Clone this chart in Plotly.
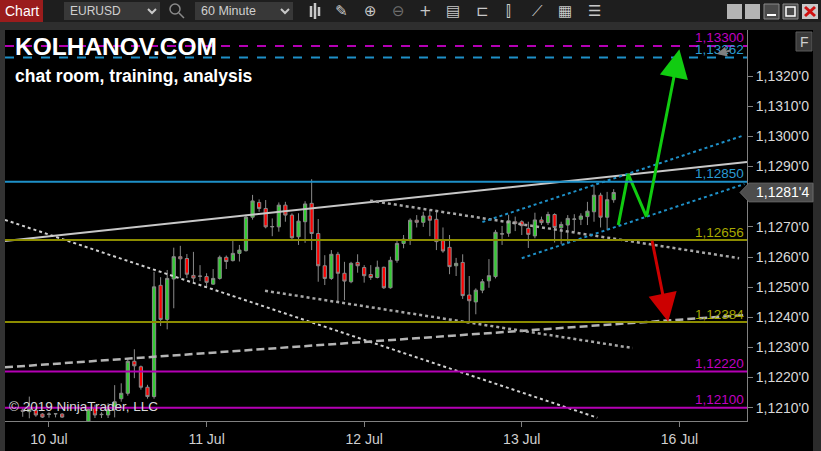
import plotly.graph_objects as go

# ---------------- data ----------------
hours = [-4, -3, -2, -1, 0, 1, 2, 6, 7, 8, 9, 10, 11, 12, 13, 14, 15, 16, 17, 18, 19, 20,
         21, 22, 23, 24, 25, 26, 27, 28, 29, 30, 31, 32, 33, 34, 35, 36, 37, 38, 39, 40,
         41, 42, 43, 44, 45, 46, 47, 48, 49, 50, 51, 52, 53, 54, 55, 56, 57, 58, 59, 60,
         61, 62, 63, 64, 65, 66, 67, 68, 69, 70, 71, 72, 73, 74, 75, 76, 77, 78, 79, 80,
         81, 82, 83, 84, 85, 86]
opens = [1.12092, 1.12087, 1.12092, 1.12079, 1.12078, 1.12080, 1.12079, 1.12040, 1.12100, 1.12077, 1.12076, 1.12095,
         1.12130, 1.12148, 1.12254, 1.12236, 1.12168, 1.12137, 1.12506, 1.12393, 1.12527, 1.12601,
         1.12595, 1.12539, 1.12537, 1.12535, 1.12510, 1.12529, 1.12599, 1.12588, 1.12612, 1.12621,
         1.12732, 1.12781, 1.12761, 1.12700, 1.12700, 1.12772, 1.12739, 1.12667, 1.12717, 1.12778,
         1.12678, 1.12571, 1.12529, 1.12609, 1.12546, 1.12518, 1.12582, 1.12565, 1.12542, 1.12532,
         1.12566, 1.12498, 1.12589, 1.12645, 1.12659, 1.12722, 1.12715, 1.12736, 1.12725, 1.12654,
         1.12632, 1.12571, 1.12582, 1.12474, 1.12451, 1.12490, 1.12521, 1.12535, 1.12676, 1.12679,
         1.12717, 1.12717, 1.12695, 1.12670, 1.12723, 1.12714, 1.12741, 1.12697, 1.12706, 1.12725,
         1.12725, 1.12734, 1.12750, 1.12805, 1.12732, 1.12790]
highs = [1.12100, 1.12137, 1.12105, 1.12082, 1.12085, 1.12081, 1.12082, 1.12100, 1.12110, 1.12085, 1.12115, 1.12175,
         1.12181, 1.12265, 1.12294, 1.12240, 1.12176, 1.12551, 1.12533, 1.12557, 1.12631, 1.12637,
         1.12610, 1.12617, 1.12573, 1.12546, 1.12560, 1.12605, 1.12605, 1.12653, 1.12640, 1.12740,
         1.12806, 1.12791, 1.12789, 1.12728, 1.12781, 1.12783, 1.12745, 1.12745, 1.12785, 1.12858,
         1.12726, 1.12606, 1.12623, 1.12617, 1.12584, 1.12584, 1.12609, 1.12573, 1.12573, 1.12588,
         1.12568, 1.12601, 1.12654, 1.12673, 1.12728, 1.12739, 1.12750, 1.12755, 1.12750, 1.12698,
         1.12673, 1.12597, 1.12609, 1.12537, 1.12496, 1.12527, 1.12593, 1.12690, 1.12703, 1.12740,
         1.12734, 1.12722, 1.12717, 1.12747, 1.12734, 1.12750, 1.12745, 1.12717, 1.12739, 1.12742,
         1.12745, 1.12783, 1.12838, 1.12813, 1.12816, 1.12825]
lows = [1.12070, 1.12065, 1.12070, 1.12066, 1.12067, 1.12068, 1.12066, 1.12030, 1.12066, 1.12066, 1.12066, 1.12068,
        1.12120, 1.12140, 1.12198, 1.12160, 1.12130, 1.12130, 1.12371, 1.12360, 1.12430, 1.12530,
        1.12530, 1.12513, 1.12520, 1.12502, 1.12508, 1.12525, 1.12560, 1.12585, 1.12585, 1.12618,
        1.12724, 1.12750, 1.12695, 1.12669, 1.12684, 1.12717, 1.12660, 1.12640, 1.12647, 1.12623,
        1.12518, 1.12507, 1.12524, 1.12452, 1.12457, 1.12513, 1.12548, 1.12515, 1.12524, 1.12529,
        1.12494, 1.12495, 1.12581, 1.12629, 1.12640, 1.12698, 1.12700, 1.12669, 1.12623, 1.12614,
        1.12543, 1.12537, 1.12461, 1.12385, 1.12410, 1.12480, 1.12498, 1.12529, 1.12640, 1.12667,
        1.12686, 1.12673, 1.12630, 1.12662, 1.12706, 1.12706, 1.12648, 1.12643, 1.12645, 1.12684,
        1.12706, 1.12706, 1.12717, 1.12698, 1.12689, 1.12780]
closes = [1.12088, 1.12097, 1.12076, 1.12069, 1.12079, 1.12080, 1.12069, 1.12095, 1.12076, 1.12078, 1.12095, 1.12120,
          1.12148, 1.12254, 1.12239, 1.12168, 1.12137, 1.12501, 1.12393, 1.12529, 1.12601, 1.12594,
          1.12543, 1.12530, 1.12536, 1.12516, 1.12529, 1.12599, 1.12585, 1.12612, 1.12623, 1.12732,
          1.12786, 1.12761, 1.12700, 1.12701, 1.12772, 1.12739, 1.12664, 1.12719, 1.12776, 1.12678,
          1.12571, 1.12529, 1.12609, 1.12546, 1.12520, 1.12579, 1.12571, 1.12538, 1.12532, 1.12566,
          1.12498, 1.12589, 1.12645, 1.12659, 1.12722, 1.12715, 1.12736, 1.12722, 1.12651, 1.12620,
          1.12568, 1.12579, 1.12472, 1.12455, 1.12490, 1.12518, 1.12538, 1.12682, 1.12677, 1.12720,
          1.12711, 1.12704, 1.12675, 1.12723, 1.12714, 1.12741, 1.12698, 1.12708, 1.12728, 1.12726,
          1.12736, 1.12752, 1.12805, 1.12732, 1.12790, 1.12814]

x_tick_hours = [0, 24, 48, 72, 96]
x_tick_labels = ["10 Jul", "11 Jul", "12 Jul", "13 Jul", "16 Jul"]
y_tick_values = [1.1210, 1.1220, 1.1230, 1.1240, 1.1250, 1.1260, 1.1270, 1.1280, 1.1290, 1.1300, 1.1310, 1.1320]
y_tick_labels = ["1,1210'0", "1,1220'0", "1,1230'0", "1,1240'0", "1,1250'0", "1,1260'0",
                 "1,1270'0", "", "1,1290'0", "1,1300'0", "1,1310'0", "1,1320'0"]

level_values = [1.13300, 1.13262, 1.12850, 1.12656, 1.12384, 1.12220, 1.12100]
level_labels = ["1,13300", "1,13262", "1,12850", "1,12656", "1,12384", "1,12220", "1,12100"]
level_colors = ["#b400b4", "#1e90c8", "#1e90c8", "#8c8c00", "#8c8c00", "#b400b4", "#b400b4"]
level_text_colors = ["#c000c0", "#2a9ad2", "#2a9ad2", "#a8a800", "#a8a800", "#c000c0", "#c000c0"]
level_dashes = ["dash", "dash", "solid", "solid", "solid", "solid", "solid"]

# drawn trend lines: (hours, price)
white_line_x = [-6.7, 106.3]
white_line_y = [1.12653, 1.12915]
long_dotted_x = [-6.7, 83.5]
long_dotted_y = [1.12723, 1.12067]
rising_dashed_x = [-6.7, 106.3]
rising_dashed_y = [1.12234, 1.12408]
upper_dotted_x = [48.9, 105.1]
upper_dotted_y = [1.12787, 1.12596]
lower_dotted_x = [32.9, 88.9]
lower_dotted_y = [1.12488, 1.12298]
channel_top_x = [66.0, 105.9]
channel_top_y = [1.12716, 1.13004]
channel_bottom_x = [72.0, 105.9]
channel_bottom_y = [1.12596, 1.12842]
green_path_x = [86.7, 88.2, 91.0, 96.0]
green_path_y = [1.12706, 1.12875, 1.12733, 1.13289]
red_arrow_x = [91.8, 94.3]
red_arrow_y = [1.12659, 1.12385]
gray_arrow_x = [104.0, 101.7]
gray_arrow_y = [1.13286, 1.13273]

X_RANGE = [-6.7, 106.3]
Y_RANGE = [1.12056, 1.13353]

# ---------------- geometry helpers (pixel -> paper) ----------------
W, H = 821, 451
L, R, T, B = 5, 74, 30, 30
PW, PH = W - L - R, H - T - B


def px(x):
    return (x - L) / PW


def py(y):
    return (H - B - y) / PH


SANS = "Liberation Sans, Arial, sans-serif"

fig = go.Figure()

fig.add_trace(go.Candlestick(
    x=hours, open=opens, high=highs, low=lows, close=closes,
    increasing=dict(fillcolor="#33cc33", line=dict(color="#8a8a8a", width=1)),
    decreasing=dict(fillcolor="#ff0000", line=dict(color="#8a8a8a", width=1)),
    whiskerwidth=0, showlegend=False, hoverinfo="skip"))


def add_line(xs, ys, color, width, dash):
    fig.add_trace(go.Scatter(x=xs, y=ys, mode="lines", showlegend=False, hoverinfo="skip",
                             line=dict(color=color, width=width, dash=dash)))


add_line(white_line_x, white_line_y, "#c8c8c8", 2, "solid")
add_line(long_dotted_x, long_dotted_y, "#d0d0d0", 2, "dot")
add_line(rising_dashed_x, rising_dashed_y, "#b4b4b4", 2.5, "8px,4px")
add_line(upper_dotted_x, upper_dotted_y, "#a8a8a8", 2.5, "dot")
add_line(lower_dotted_x, lower_dotted_y, "#a8a8a8", 2.5, "dot")
add_line(channel_top_x, channel_top_y, "#1e90c8", 2, "dot")
add_line(channel_bottom_x, channel_bottom_y, "#1e90c8", 2, "dot")
add_line(green_path_x[:3], green_path_y[:3], "#11cc11", 3, "solid")

shapes = []
annotations = []

# horizontal levels
for v, lab, c, tc, d in zip(level_values, level_labels, level_colors, level_text_colors, level_dashes):
    shapes.append(dict(type="line", xref="paper", yref="y", x0=0, x1=1, y0=v, y1=v,
                       line=dict(color=c, width=2, dash=d), layer="above"))
    annotations.append(dict(xref="paper", yref="y", x=px(746), y=v, text=lab, showarrow=False,
                            xanchor="right", yanchor="middle", yshift=8,
                            font=dict(family=SANS, size=13.5, color=tc)))

# arrows
annotations.append(dict(x=green_path_x[3], y=green_path_y[3], ax=green_path_x[2], ay=green_path_y[2],
                        xref="x", yref="y", axref="x", ayref="y", text="", showarrow=True,
                        arrowhead=2, arrowsize=1.9, arrowwidth=3, arrowcolor="#11cc11"))
annotations.append(dict(x=red_arrow_x[1], y=red_arrow_y[1], ax=red_arrow_x[0], ay=red_arrow_y[0],
                        xref="x", yref="y", axref="x", ayref="y", text="", showarrow=True,
                        arrowhead=2, arrowsize=1.9, arrowwidth=3, arrowcolor="#cc0000"))
annotations.append(dict(x=gray_arrow_x[1], y=gray_arrow_y[1], ax=gray_arrow_x[0], ay=gray_arrow_y[0],
                        xref="x", yref="y", axref="x", ayref="y", text="", showarrow=True,
                        arrowhead=2, arrowsize=1, arrowwidth=2, arrowcolor="#808080"))

# frame pieces outside the plot
shapes += [
    dict(type="rect", xref="paper", yref="paper", x0=px(0), x1=px(821), y0=py(0), y1=py(22),
         fillcolor="#1e1e1e", line_width=0, layer="below"),
    dict(type="rect", xref="paper", yref="paper", x0=px(0), x1=px(821), y0=py(22), y1=py(30),
         fillcolor="#2e2e2e", line_width=0, layer="below"),
    dict(type="rect", xref="paper", yref="paper", x0=px(0), x1=px(5), y0=py(30), y1=py(451),
         fillcolor="#333333", line_width=0, layer="below"),
    dict(type="rect", xref="paper", yref="paper", x0=px(813), x1=px(821), y0=py(30), y1=py(451),
         fillcolor="#2b2b2b", line_width=0, layer="below"),
    # Chart tab
    dict(type="rect", xref="paper", yref="paper", x0=px(0), x1=px(43), y0=py(0), y1=py(22),
         fillcolor="#9a1c1c", line_width=0),
    # symbol & interval boxes
    dict(type="rect", xref="paper", yref="paper", x0=px(64), x1=px(160), y0=py(2), y1=py(20),
         fillcolor="#383838", line_width=0),
    dict(type="rect", xref="paper", yref="paper", x0=px(195), x1=px(293), y0=py(2), y1=py(20),
         fillcolor="#383838", line_width=0),
    # chevrons
    dict(type="path", xref="paper", yref="paper",
         path=f"M {px(148)},{py(9)} L {px(152)},{py(13)} L {px(156)},{py(9)}",
         line=dict(color="#c8c8c8", width=2)),
    dict(type="path", xref="paper", yref="paper",
         path=f"M {px(281)},{py(9)} L {px(285)},{py(13)} L {px(289)},{py(9)}",
         line=dict(color="#c8c8c8", width=2)),
    # search icon
    dict(type="circle", xref="paper", yref="paper", x0=px(170), x1=px(180), y0=py(4), y1=py(14),
         line=dict(color="#8a8a8a", width=1.5)),
    dict(type="line", xref="paper", yref="paper", x0=px(179), x1=px(184), y0=py(13), y1=py(18),
         line=dict(color="#8a8a8a", width=1.5)),
    # window buttons
    dict(type="rect", xref="paper", yref="paper", x0=px(727), x1=px(742), y0=py(4), y1=py(19),
         fillcolor="#b4b4b4", line_width=0),
    dict(type="rect", xref="paper", yref="paper", x0=px(745), x1=px(760), y0=py(4), y1=py(19),
         fillcolor="#b4b4b4", line_width=0),
    dict(type="rect", xref="paper", yref="paper", x0=px(764), x1=px(779), y0=py(4), y1=py(19),
         fillcolor="#4a4a4a", line=dict(color="#8a8a8a", width=1)),
    dict(type="line", xref="paper", yref="paper", x0=px(767), x1=px(776), y0=py(15), y1=py(15),
         line=dict(color="#ffffff", width=2)),
    dict(type="rect", xref="paper", yref="paper", x0=px(783), x1=px(798), y0=py(4), y1=py(19),
         fillcolor="#4a4a4a", line=dict(color="#8a8a8a", width=1)),
    dict(type="rect", xref="paper", yref="paper", x0=px(786), x1=px(795), y0=py(7), y1=py(16),
         line=dict(color="#ffffff", width=1.5)),
    dict(type="rect", xref="paper", yref="paper", x0=px(802), x1=px(818), y0=py(4), y1=py(19),
         fillcolor="#c8c8c8", line_width=0),
    dict(type="line", xref="paper", yref="paper", x0=px(805), x1=px(815), y0=py(7), y1=py(16),
         line=dict(color="#d01010", width=3)),
    dict(type="line", xref="paper", yref="paper", x0=px(805), x1=px(815), y0=py(16), y1=py(7),
         line=dict(color="#d01010", width=3)),
    # F button
    dict(type="rect", xref="paper", yref="paper", x0=px(796), x1=px(812), y0=py(32), y1=py(51),
         fillcolor="#3a3a3a", line=dict(color="#5a5a5a", width=1)),
]

# toolbar candle icon
for cx, top, bot in [(311, 6, 17), (315, 3, 19), (319, 7, 16)]:
    shapes.append(dict(type="line", xref="paper", yref="paper", x0=px(cx), x1=px(cx), y0=py(top), y1=py(bot),
                       line=dict(color="#c8c8c8", width=2.5)))

# last price marker
last = closes[-1]
shapes.append(dict(type="path", xref="paper", yref="y",
                   path=(f"M {px(740)},{last} L {px(749)},{last + 0.00031} L {px(813)},{last + 0.00031} "
                         f"L {px(813)},{last - 0.00031} L {px(749)},{last - 0.00031} Z"),
                   fillcolor="#4d4d4d", line=dict(color="#6a6a6a", width=1)))
s = f"{last:.5f}"
last_label = s[:-1].replace(".", ",") + "'" + s[-1]
annotations.append(dict(xref="paper", yref="y", x=px(756), y=last, text=last_label, showarrow=False,
                        xanchor="left", yanchor="middle", xshift=-2,
                        font=dict(family=SANS, size=14, color="#ffffff")))


def ptext(x, y, text, size, color, anchor="left", family=SANS, bold=False):
    t = f"<b>{text}</b>" if bold else text
    annotations.append(dict(xref="paper", yref="paper", x=px(x), y=py(y), text=t, showarrow=False,
                            xanchor=anchor, yanchor="middle", xshift=(-2 if anchor == "left" else 0),
                            font=dict(family=family, size=size, color=color)))


ptext(21.5, 11, "Chart", 14, "#ffffff", "center")
ptext(70, 11, "EURUSD", 12, "#d0d0d0")
ptext(201, 11, "60 Minute", 12.5, "#d0d0d0")
icon_font = "DejaVu Sans"
for x, g, c in [(341, "✎", "#c8c8c8"), (370, "⊕", "#c8c8c8"), (398, "⊖", "#707070"),
                (425, "+", "#c8c8c8"), (453, "▤", "#c8c8c8"), (482, "⊏", "#c8c8c8"),
                (508, "⫿", "#c8c8c8"), (537, "⟋", "#c8c8c8"), (565, "▦", "#c8c8c8"), (594, "☰", "#c8c8c8")]:
    ptext(x, 11, g, 15, c, "center", icon_font)
ptext(804, 41.5, "F", 14, "#d0d0d0", "center", SANS)

# watermark texts
ptext(15, 47, "KOLHANOV.COM", 24.5, "#ffffff", "left", SANS, True)
ptext(15, 76, "chat room, training, analysis", 17.5, "#ffffff", "left", SANS, True)
ptext(9, 406, "© 2019 NinjaTrader, LLC", 13.5, "#d8d8d8", "left", SANS)

fig.update_layout(
    width=W, height=H,
    margin=dict(l=L, r=R, t=T, b=B),
    paper_bgcolor="#000000", plot_bgcolor="#000000",
    shapes=shapes, annotations=annotations, showlegend=False,
    xaxis=dict(range=X_RANGE, rangeslider=dict(visible=False), tickvals=x_tick_hours, ticktext=x_tick_labels,
               showgrid=False, zeroline=False, showline=True, linecolor="#808080", linewidth=1,
               ticks="outside", ticklen=5, tickcolor="#808080",
               tickfont=dict(family=SANS, size=14, color="#d0d0d0")),
    yaxis=dict(range=Y_RANGE, side="right", tickvals=y_tick_values, ticktext=y_tick_labels,
               showgrid=False, zeroline=False, showline=True, linecolor="#808080", linewidth=1,
               ticks="outside", ticklen=5, tickcolor="#808080",
               tickfont=dict(family=SANS, size=14, color="#d8d8d8")),
)

fig.write_html("out.html", config={"displayModeBar": False},
               post_script="document.body.style.margin='0';document.body.style.overflow='hidden';")
